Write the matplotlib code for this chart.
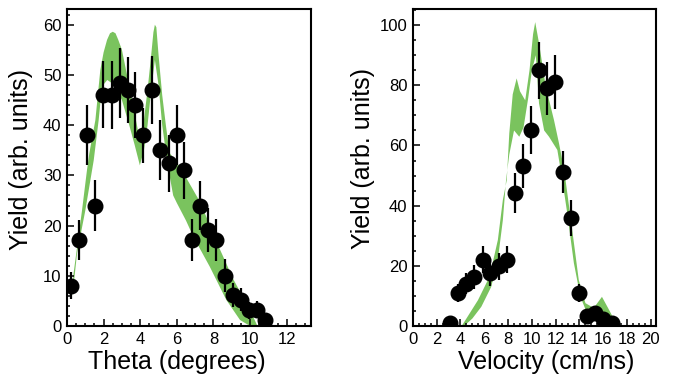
import numpy as np
import matplotlib
matplotlib.use("Agg")
import matplotlib.pyplot as plt
from matplotlib.ticker import MultipleLocator

plt.rcParams["font.family"] = ["Liberation Sans", "DejaVu Sans"]

# ---------------------------------------------------------
# Left panel: angular distribution
# ---------------------------------------------------------
theta = [0.2, 0.64, 1.09, 1.55, 1.99, 2.44, 2.88, 3.33, 3.73, 4.17, 4.64, 5.1,
         5.56, 6.0, 6.41, 6.83, 7.27, 7.7, 8.16, 8.63, 9.07, 9.49, 9.96, 10.4, 10.8]
theta_yield = [8, 17.1, 38.1, 24, 46.1, 46, 48.4, 47, 44, 38, 47, 35,
               32.4, 38, 31, 17.1, 24, 19.1, 17.1, 10, 6.1, 5.2, 3.1, 3.2, 1.1]
theta_err = [2.7, 4, 6, 5, 6.7, 6.7, 7, 6.5, 6.5, 5.5, 6.8, 6,
             5.7, 6, 5.7, 4.2, 4.9, 4.4, 4.2, 3.3, 2.4, 2.3, 1.7, 1.7, 1.0]

# simulation band (upper and lower edges)
theta_band_up_x = [0.3, 0.36, 0.82, 1.09, 1.22, 1.55, 1.82, 2.0, 2.19, 2.35, 2.5,
                   2.65, 2.8, 3.0, 3.5, 3.9, 4.05, 4.2, 4.4, 4.6, 4.72, 4.8,
                   4.88, 5.0, 5.2, 5.4, 5.6, 6.2, 7.3, 8.2, 9.1, 10.0, 10.4]
theta_band_up_y = [8, 10.5, 23, 31, 34.4, 41, 51, 54.5, 57, 58.3, 58.6,
                   58.3, 57, 55, 46, 38.5, 37.5, 41, 47, 54, 58.5, 60,
                   59.5, 54, 46, 40, 34.5, 31.5, 24.5, 16.5, 9.2, 3.2, 0]
theta_band_lo_x = [0.3, 0.55, 1.0, 1.46, 1.73, 1.91, 2.2, 2.6, 3.0, 3.4, 3.7,
                   3.98, 4.2, 4.4, 4.6, 4.8, 5.0, 5.2, 5.5, 5.8, 6.0, 6.5,
                   6.9, 7.8, 8.7, 9.45, 10.0, 10.4]
theta_band_lo_y = [6, 14.5, 23, 33, 41, 47.7, 49, 48, 45, 40, 36,
                   32, 35, 40, 47, 53, 48, 40, 32, 26, 24.5, 21,
                   17.8, 11.8, 5.2, 1.2, 0, 0]

# ---------------------------------------------------------
# Right panel: velocity distribution
# ---------------------------------------------------------
velocity = [3.12, 3.79, 4.46, 5.15, 5.85, 6.52, 7.21, 7.91, 8.55, 9.22, 9.92,
            10.58, 11.23, 11.92, 12.62, 13.29, 13.96, 14.6, 15.29, 16.0, 16.7]
vel_yield = [0.9, 10.9, 14, 16.2, 22.1, 17.7, 19.9, 22.1, 44.1, 53.2, 65.1,
             85, 79, 81.2, 51.2, 36, 11.1, 3.3, 4.2, 2.4, 0.9]
vel_err = [0.8, 3, 3.5, 4, 4.5, 4.5, 4.5, 4.5, 6.6, 7.4, 8,
           9.4, 8.9, 9, 7, 6, 3, 1.5, 2, 1.5, 0.8]

vel_band_up_x = [4.1, 5.47, 6.44, 7.14, 7.56, 7.89, 8.1, 8.39, 8.72, 9.0, 9.44,
                 9.8, 10.1, 10.28, 10.6, 11.17, 11.86, 12.28, 12.56, 12.83,
                 13.39, 13.94, 14.5, 15.2, 15.89, 16.4, 17.0, 17.3]
vel_band_up_y = [0, 8.6, 16.4, 28.6, 41.9, 48.5, 64, 77, 82.3, 78, 75,
                 85, 97, 101, 94, 79.5, 68.4, 60.7, 55, 48.5,
                 31.9, 15.3, 7.6, 6, 9.7, 6, 1.5, 0]
vel_band_lo_x = [4.3, 5.0, 5.75, 6.58, 7.14, 7.56, 7.83, 8.1, 8.5, 8.94, 9.3,
                 9.7, 10.0, 10.33, 10.6, 11.03, 11.44, 12.14, 12.56, 12.97,
                 13.53, 14.08, 14.64, 15.2, 15.9, 16.3, 16.7, 17.3]
vel_band_lo_y = [0, 2.5, 6.4, 13, 22, 35.2, 48.5, 57, 65, 62.9, 66,
                 76, 85, 90, 74, 65, 62.9, 58.5, 48.5, 37.5,
                 20.9, 9.7, 4.2, 3, 5, 2, 0, 0]

GREEN = "#7AC35E"


def draw_panel(ax, x, y, err, bx_up, by_up, bx_lo, by_lo):
    poly_x = np.concatenate([bx_up, bx_lo[::-1]])
    poly_y = np.concatenate([by_up, by_lo[::-1]])
    ax.fill(poly_x, poly_y, color=GREEN, linewidth=0, zorder=1)
    ax.errorbar(x, y, yerr=err, fmt="o", color="black", markersize=10.5,
                elinewidth=1.6, capsize=0, zorder=3)
    for s in ax.spines.values():
        s.set_linewidth(1.5)
    ax.tick_params(which="both", direction="in", top=False, right=False,
                   labelsize=12, width=1.1, pad=4)
    ax.tick_params(which="major", length=5)
    ax.tick_params(which="minor", length=2.5)


fig = plt.figure(figsize=(6.78, 3.79), dpi=100)

ax1 = fig.add_axes([0.0988, 0.1398, 0.36, 0.836])
draw_panel(ax1, theta, theta_yield, theta_err,
           theta_band_up_x, theta_band_up_y, theta_band_lo_x, theta_band_lo_y)
ax1.set_xlim(0, 13.33)
ax1.set_ylim(0, 63.1)
ax1.xaxis.set_major_locator(MultipleLocator(2))
ax1.xaxis.set_minor_locator(MultipleLocator(0.5))
ax1.yaxis.set_major_locator(MultipleLocator(10))
ax1.yaxis.set_minor_locator(MultipleLocator(2))
ax1.set_xlabel("Theta (degrees)", fontsize=18)
ax1.set_ylabel("Yield (arb. units)", fontsize=18)
ax1.xaxis.set_label_coords(0.45, -0.075)
ax1.yaxis.set_label_coords(-0.14, 0.527)

ax2 = fig.add_axes([0.609, 0.1398, 0.358, 0.836])
draw_panel(ax2, velocity, vel_yield, vel_err,
           vel_band_up_x, vel_band_up_y, vel_band_lo_x, vel_band_lo_y)
ax2.set_xlim(0, 20.4)
ax2.set_ylim(0, 105.3)
ax2.xaxis.set_major_locator(MultipleLocator(2))
ax2.xaxis.set_minor_locator(MultipleLocator(0.5))
ax2.yaxis.set_major_locator(MultipleLocator(20))
ax2.yaxis.set_minor_locator(MultipleLocator(5))
ax2.set_xlabel("Velocity (cm/ns)", fontsize=18)
ax2.set_ylabel("Yield (arb. units)", fontsize=18)
ax2.xaxis.set_label_coords(0.55, -0.075)
ax2.yaxis.set_label_coords(-0.156, 0.53)

fig.savefig("out.png", dpi=100)
